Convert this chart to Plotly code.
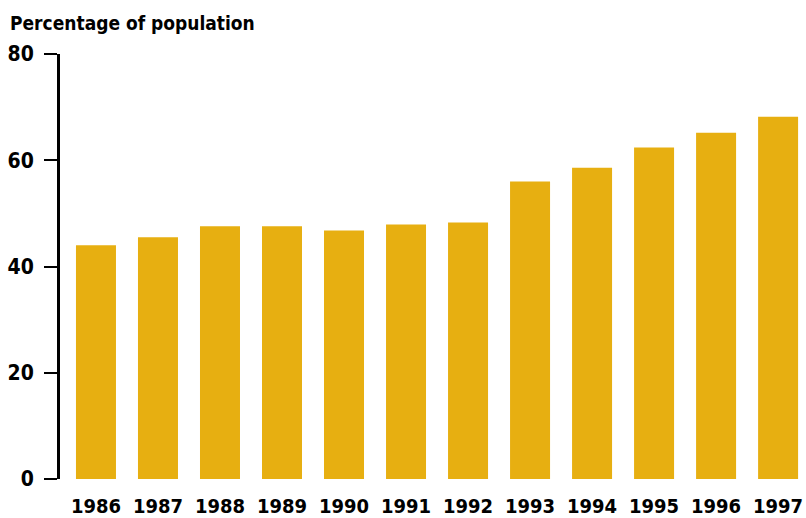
import plotly.graph_objects as go

years = ["1986", "1987", "1988", "1989", "1990", "1991", "1992",
         "1993", "1994", "1995", "1996", "1997"]
values = [44.0, 45.5, 47.6, 47.6, 46.8, 47.9, 48.3, 56.0, 58.6, 62.4, 65.2, 68.2]
y_ticks = [0, 20, 40, 60, 80]
title_text = "Percentage of population"

FONT = "DejaVu Sans Condensed, Liberation Sans Narrow, sans-serif"

W, H = 806, 518

fig = go.Figure(go.Bar(
    x=years, y=values,
    marker=dict(color="#E7AF11", line=dict(width=0)),
    hoverinfo="x+y",
))

fig.update_layout(
    width=W, height=H,
    margin=dict(l=60, r=0, t=54, b=39, autoexpand=False),
    paper_bgcolor="white", plot_bgcolor="white",
    bargap=0.355,
    showlegend=False,
    font=dict(family=FONT, color="black"),
    title=dict(
        text="<b>" + title_text + "</b>",
        x=10 / W, xanchor="left", xref="container",
        y=1 - 23 / H, yanchor="middle", yref="container",
        font=dict(family=FONT, size=19, color="black"),
        automargin=False,
    ),
    xaxis=dict(
        type="category",
        range=[-0.58, 11.45],
        showline=False, showgrid=False, zeroline=False,
        ticks="",
        tickfont=dict(family=FONT, size=20, color="black", weight="bold"),
        ticklabelstandoff=13,
        automargin=False,
    ),
    yaxis=dict(
        range=[0, 80],
        tickvals=y_ticks,
        showline=True, linecolor="black", linewidth=3,
        showgrid=False, zeroline=False,
        ticks="outside", ticklen=13, tickwidth=2, tickcolor="black",
        tickfont=dict(family=FONT, size=21, color="black", weight="bold"),
        ticklabelstandoff=6,
        automargin=False,
    ),
)

fig.write_html(
    "out.html",
    config={"displayModeBar": False},
    post_script="document.body.style.margin='0';document.body.style.overflow='hidden';",
)
